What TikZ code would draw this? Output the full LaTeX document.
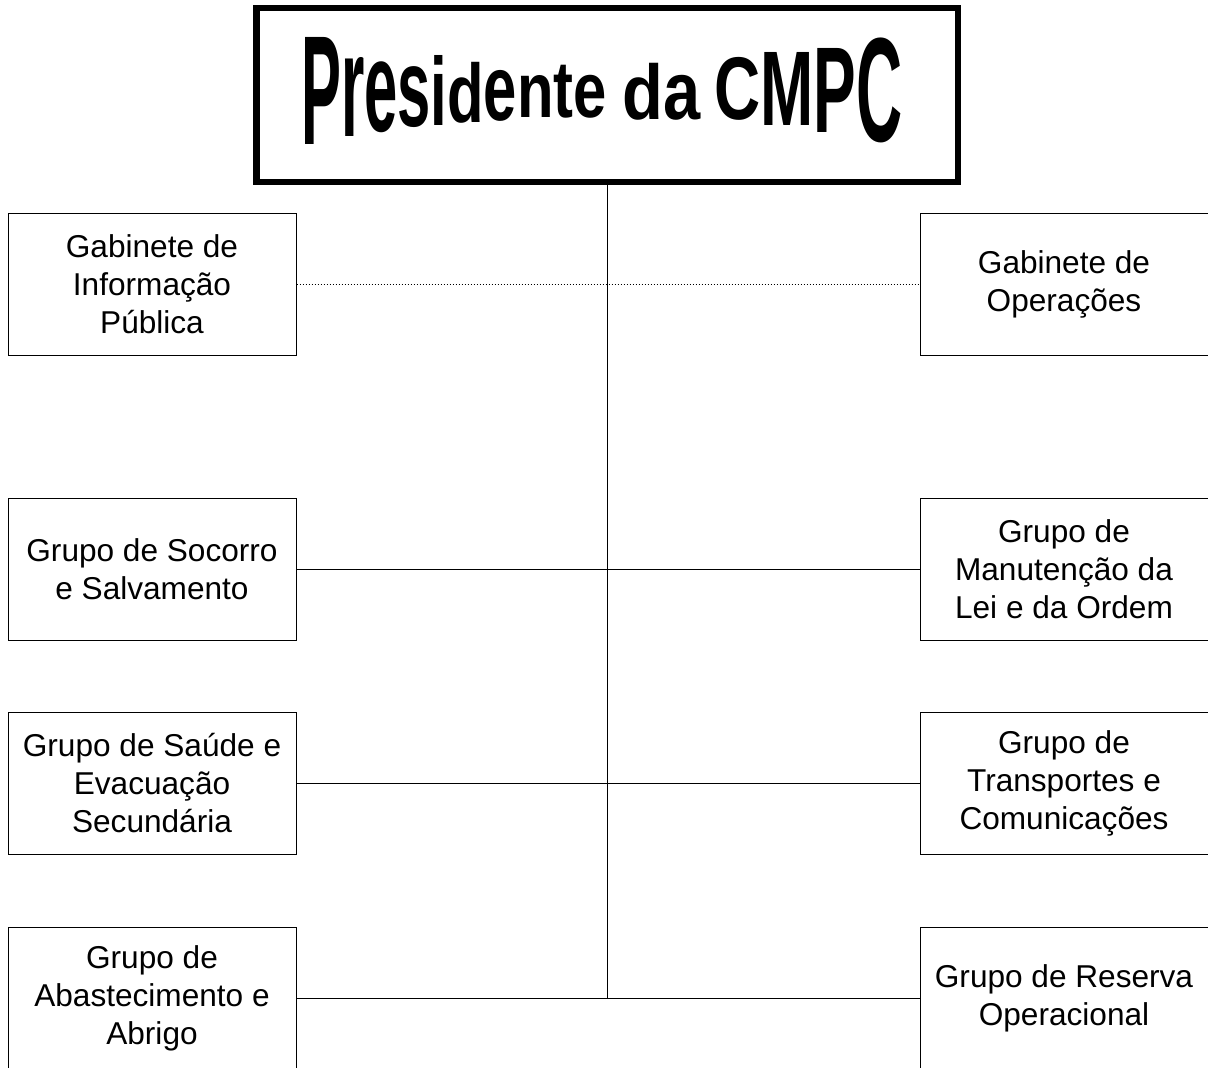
\documentclass[tikz,border=0pt]{standalone}
\usepackage{fontspec}
\setmainfont{Liberation Sans}
\usepackage{graphicx}
% one letter of the waved title: #1 letter, #2/#3 left/right x of its box, #4/#5 top/bottom y (pixels)
\newcommand\wvl[5]{\makebox[0pt][l]{\hspace*{\dimexpr #2pt - 300pt\relax}\raisebox{\dimexpr 144pt - #5pt\relax}{\resizebox*{\dimexpr #3pt - #2pt\relax}{\dimexpr #5pt - #4pt\relax}{\raisebox{\depth}{#1}}}}}
\begin{document}
\begin{tikzpicture}[x=1pt,y=-1pt,
  unit/.style={draw=black, line width=1pt, minimum width=288pt, minimum height=142pt,
    align=center, inner sep=0pt, font=\fontsize{31.6}{38}\selectfont},
  link/.style={draw=black, line width=1pt},
  dotlink/.style={draw=black, line width=1pt, dash pattern=on 1pt off 2pt}]
\useasboundingbox (0,0) rectangle (1208,1068);
\clip (0,0) rectangle (1208,1068);
\fill[white] (0,0) rectangle (1208,1068);
% president box
\node[draw=black, line width=6.5pt, minimum width=701.5pt, minimum height=174pt, inner sep=0pt] (pres) at (607,95) {};
\node[anchor=base west, inner sep=0pt, font=\bfseries] (title) at (300,144) {\makebox[602pt][l]{%
\wvl{P}{301}{340.9}{37}{144}%
\wvl{r}{340.9}{364.2}{57}{136}%
\wvl{e}{364.2}{397.4}{62}{133}%
\wvl{s}{397.4}{430.6}{67}{128}%
\wvl{i}{430.6}{447.2}{55}{125}%
\wvl{d}{447.2}{483.7}{62}{123}%
\wvl{e}{483.7}{516.9}{70}{121}%
\wvl{n}{516.9}{553.4}{75}{117}%
\wvl{t}{553.4}{573.3}{65}{118}%
\wvl{e}{573.3}{606.5}{75}{118}%
\wvl{d}{622}{662.8}{63}{120}%
\wvl{a}{662.8}{699.9}{75}{120}%
\wvl{C}{714}{760.1}{57}{120}%
\wvl{M}{760.1}{813.3}{52}{125}%
\wvl{P}{813.3}{855.9}{48}{132}%
\wvl{C}{855.9}{902}{38}{143}%
}};
% left column
\node[unit] (l1) at (152,284) {Gabinete de\\Informação\\Pública};
\node[unit] (l2) at (152,569) {Grupo de Socorro\\e Salvamento};
\node[unit] (l3) at (152,783.5) {Grupo de Saúde e\\Evacuação\\Secundária};
\node[unit] (l4) at (152,998) {Grupo de\\Abastecimento e\\Abrigo};
% right column
\node[unit] (r1) at (1064,284) {Gabinete de\\Operações};
\node[unit] (r2) at (1064,569) {Grupo de\\Manutenção da\\Lei e da Ordem};
\node[unit] (r3) at (1064,783.5) {Grupo de\\Transportes e\\Comunicações};
\node[unit] (r4) at (1064,998) {Grupo de Reserva\\Operacional};
% connectors
\coordinate (j4) at (pres.south |- l4.east);
\draw[link] (pres.south) -- (j4);
\draw[dotlink] (l1.east) -- (r1.west);
\draw[link] (l2.east) -- (r2.west);
\draw[link] (l3.east) -- (r3.west);
\draw[link] (l4.east) -- (r4.west);
\end{tikzpicture}
\end{document}
